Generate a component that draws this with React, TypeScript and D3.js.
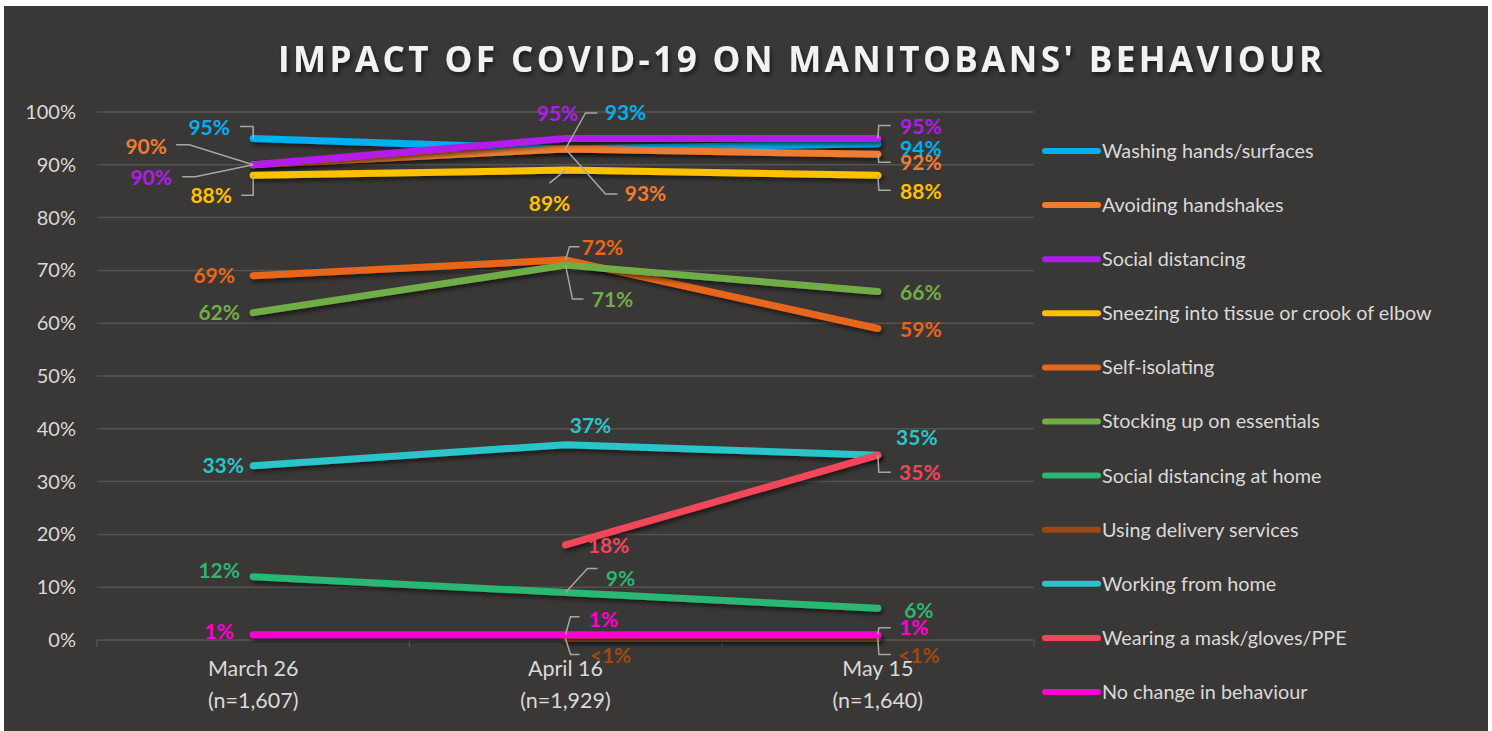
import * as d3 from "d3";
import React from "react";

const categories = ["March 26", "April 16", "May 15"];
const sampleSizes = ["(n=1,607)", "(n=1,929)", "(n=1,640)"];

const washingHands = [95, 93, 94];
const avoidingHandshakes = [90, 93, 92];
const socialDistancing = [90, 95, 95];
const sneezing = [88, 89, 88];
const selfIsolating = [69, 72, 59];
const stockingUp = [62, 71, 66];
const distancingAtHome = [12, 9, 6];
const deliveryServices = [null, 0.3, 0.3]; // "<1%"
const workingFromHome = [33, 37, 35];
const wearingMask = [null, 18, 35];
const noChange = [1, 1, 1];

const yTicks = [0, 10, 20, 30, 40, 50, 60, 70, 80, 90, 100];

const series = [
  { name: "Washing hands/surfaces", values: washingHands, color: "#00B0F0" },
  { name: "Avoiding handshakes", values: avoidingHandshakes, color: "#ED7D31" },
  { name: "Social distancing", values: socialDistancing, color: "#B41AEB" },
  { name: "Sneezing into tissue or crook of elbow", values: sneezing, color: "#FFC000" },
  { name: "Self-isolating", values: selfIsolating, color: "#E8661A" },
  { name: "Stocking up on essentials", values: stockingUp, color: "#70AD47" },
  { name: "Social distancing at home", values: distancingAtHome, color: "#2BB673" },
  { name: "Using delivery services", values: deliveryServices, color: "#9C4A10" },
  { name: "Working from home", values: workingFromHome, color: "#2BC4CB" },
  { name: "Wearing a mask/gloves/PPE", values: wearingMask, color: "#F0465A" },
  { name: "No change in behaviour", values: noChange, color: "#FF00D2" },
];

// label placement: [seriesIndex, pointIndex, dx, dy, leader elbow/end offsets]
const labelPlacement: [number, number, number, number, number[][] | null][] = [
  [0, 0, -44, -11, [[0, -12], [-13, -12]]],
  [1, 0, -107, -18, [[-64, -20], [-77, -20]]],
  [2, 0, -102, 13, [[-58, 12], [-71, 12]]],
  [3, 0, -42, 20, [[0, 20], [-12, 20]]],
  [4, 0, -39, 0, null],
  [5, 0, -34, 0, null],
  [8, 0, -30, 0, null],
  [10, 0, -34, -3, null],
  [6, 0, -34, -6, null],
  [2, 1, -8, -25, null],
  [0, 1, 60, -36, [[20, -36], [32, -36]]],
  [1, 1, 80, 45, [[40, 45], [52, 45]]],
  [3, 1, -16, 34, [[-16, 13], [0, 0]]],
  [4, 1, 37, -12, [[4, -13], [14, -13]]],
  [5, 1, 47, 35, [[7, 34], [18, 34]]],
  [8, 1, 25, -19, null],
  [9, 1, 43, 1, null],
  [6, 1, 55, -14, [[22, -24], [32, -24]]],
  [10, 1, 38, -15, [[5, -18], [14, -18]]],
  [7, 1, 45, 17, [[5, 16], [14, 16]]],
  [2, 2, 43, -12, [[1, -13], [13, -13]]],
  [0, 2, 43, 5, null],
  [1, 2, 43, 8, [[1, 8], [13, 8]]],
  [3, 2, 43, 16, [[1, 15], [13, 15]]],
  [5, 2, 43, 1, null],
  [4, 2, 43, 1, null],
  [8, 2, 39, -18, null],
  [9, 2, 42, 17, [[1, 17], [13, 17]]],
  [6, 2, 41, 2, null],
  [10, 2, 36, -7, [[1, -7], [13, -7]]],
  [7, 2, 41, 17, [[1, 16], [13, 16]]],
];

const width = 1492;
const height = 731;
const font = "Lato, 'Open Sans', sans-serif";

export default function App() {
  const x = d3.scaleBand().domain(categories).range([97, 1034]);
  const y = d3.scaleLinear().domain([0, 100]).range([640, 112]);
  const cx = (i: number) => (x(categories[i]) as number) + x.bandwidth() / 2;

  const line = d3
    .line<number | null>()
    .defined((d) => d != null)
    .x((_, i) => cx(i))
    .y((d) => y(d as number));

  const fmt = (v: number) => (v < 1 ? "<1%" : `${v}%`);

  return (
    <svg
      width={width}
      height={height}
      style={{ position: "absolute", left: 0, top: 0, background: "#fff" }}
      fontFamily={font}
    >
      <defs>
        <filter id="shadow" filterUnits="userSpaceOnUse" x={0} y={0} width={width} height={height}>
          <feDropShadow dx="2" dy="3" stdDeviation="2" floodColor="#000" floodOpacity="0.55" />
        </filter>
      </defs>
      <rect x={4} y={6} width={1484} height={725} fill="#3A3836" />

      <text
        x={800}
        y={72}
        textAnchor="middle"
        fill="#F2F2F2"
        fontSize={35}
        fontWeight={700}
        fontFamily="'Open Sans', sans-serif"
        textLength={1044}
        lengthAdjust="spacing"
        filter="url(#shadow)"
      >
        IMPACT OF COVID-19 ON MANITOBANS' BEHAVIOUR
      </text>

      {yTicks.map((t) => (
        <g key={t}>
          <line x1={97} x2={1034} y1={y(t)} y2={y(t)} stroke="#55524F" strokeWidth={1.5} />
          <text x={76} y={y(t)} dy="0.35em" textAnchor="end" fill="#D9D9D9" fontSize={20}>
            {t}%
          </text>
        </g>
      ))}
      {[0, 1, 2, 3].map((i) => {
        const xp = 97 + i * x.bandwidth();
        return <line key={i} x1={xp} x2={xp} y1={640} y2={647} stroke="#55524F" strokeWidth={1.5} />;
      })}

      {categories.map((c, i) => (
        <g key={c}>
          <text x={cx(i)} y={676} textAnchor="middle" fill="#D9D9D9" fontSize={21.5}>
            {c}
          </text>
          <text x={cx(i)} y={708} textAnchor="middle" fill="#D9D9D9" fontSize={21.5}>
            {sampleSizes[i]}
          </text>
        </g>
      ))}

      {series.map((s) => (
        <path
          key={s.name}
          d={line(s.values) || ""}
          fill="none"
          stroke={s.color}
          strokeWidth={7}
          strokeLinecap="round"
          strokeLinejoin="round"
          filter="url(#shadow)"
        />
      ))}

      {labelPlacement.map(([si, pi, dx, dy, leader], k) => {
        const s = series[si];
        const v = s.values[pi] as number;
        const px = cx(pi);
        const py = y(v);
        return (
          <g key={k}>
            {leader && (
              <polyline
                points={[[0, 0], ...leader].map((p) => `${px + p[0]},${py + p[1]}`).join(" ")}
                fill="none"
                stroke="#A6A6A6"
                strokeWidth={1.5}
              />
            )}
            <text
              x={px + dx}
              y={py + dy}
              dy="0.35em"
              textAnchor="middle"
              fill={s.color}
              fontSize={21}
              fontWeight={700}
            >
              {fmt(v)}
            </text>
          </g>
        );
      })}

      {series.map((s, i) => {
        const ly = 151 + i * 54.1;
        return (
          <g key={s.name}>
            <line x1={1045} x2={1098} y1={ly} y2={ly} stroke={s.color} strokeWidth={6} strokeLinecap="round" />
            <text x={1102} y={ly} dy="0.35em" fill="#D9D9D9" fontSize={19.8}>
              {s.name}
            </text>
          </g>
        );
      })}
    </svg>
  );
}
